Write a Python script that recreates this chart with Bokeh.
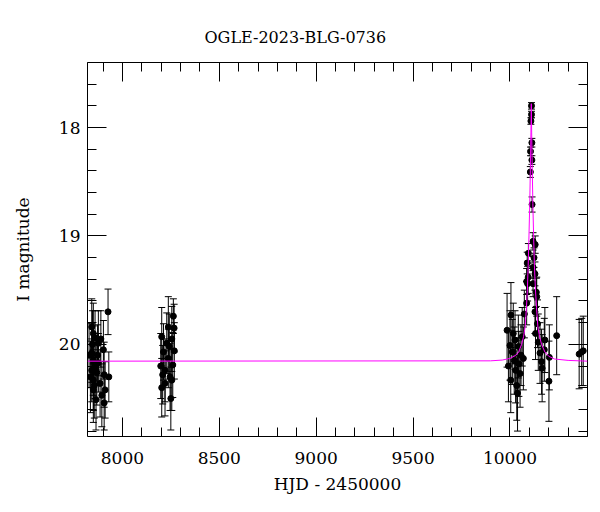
from bokeh.plotting import figure
from bokeh.models import (ColumnDataSource, Whisker, TeeHead, Range1d, LinearAxis,
                          SingleIntervalTicker)
from bokeh.embed import file_html
from bokeh.resources import INLINE

# ---- data ----
title_text = "OGLE-2023-BLG-0736"
x_label = "HJD - 2450000"
y_label = "I magnitude"

s1_hjd = [7828, 7835, 7842, 7850, 7859, 7876, 7842, 7850, 7859, 7868, 7850, 7885, 7902, 7906,
          7911, 7894, 7850, 7864, 7906, 7926, 7930, 7842, 7876, 7846, 7872, 7889, 7855]
s1_mag = [20.10, 20.30, 19.84, 19.90, 19.94, 19.99, 20.08, 20.15, 20.21, 20.26, 20.33, 20.36, 20.05, 20.28,
          20.42, 20.47, 20.42, 20.51, 20.54, 19.70, 20.30, 20.24, 20.17, 20.00, 20.10, 19.95, 20.38]
s1_err = [0.30, 0.33, 0.26, 0.28, 0.25, 0.30, 0.27, 0.32, 0.29, 0.30, 0.28, 0.31, 0.27, 0.30,
          0.26, 0.29, 0.30, 0.28, 0.25, 0.21, 0.23, 0.29, 0.27, 0.31, 0.28, 0.26, 0.30]

s2_hjd = [8263, 8267, 8203, 8255, 8229, 8268, 8198, 8237, 8220, 8246, 8255, 8220, 8203, 8250,
          8212, 8260, 8237, 8208, 8242]
s2_mag = [19.74, 19.85, 19.93, 19.95, 19.99, 20.06, 20.20, 20.13, 20.24, 20.30, 20.33, 20.36, 20.40, 20.50,
          20.07, 20.19, 19.84, 20.28, 20.02]
s2_err = [0.16, 0.22, 0.27, 0.30, 0.28, 0.26, 0.30, 0.27, 0.29, 0.31, 0.28, 0.30, 0.27, 0.29,
          0.26, 0.30, 0.28, 0.27, 0.30]

s3_hjd = [9985, 10005, 10000, 10004, 10017, 10012, 10026, 10022, 10029, 10035, 10043, 10046, 10052,
          10057, 10063, 10069, 10074, 10086, 10091, 10094, 10129, 10132, 10142, 10146, 10155, 10163,
          10166, 10180, 10177, 10201, 10241, 10138, 10203, 10357, 10370, 10378, 9992, 10039]
s3_mag = [19.87, 19.73, 20.01, 20.33, 19.90, 20.07, 19.96, 20.15, 20.24, 20.38, 20.02, 20.18, 20.27,
          20.10, 19.93, 20.13, 19.72, 19.62, 19.44, 19.38, 19.70, 19.90, 19.81, 19.98, 20.08, 20.16,
          20.22, 19.96, 20.05, 20.34, 19.92, 19.56, 20.12, 20.09, 20.07, 20.06, 20.20, 20.45]
s3_err = [0.34, 0.30, 0.32, 0.30, 0.28, 0.30, 0.27, 0.31, 0.30, 0.32, 0.29, 0.30, 0.31,
          0.28, 0.27, 0.29, 0.22, 0.20, 0.16, 0.15, 0.20, 0.24, 0.22, 0.26, 0.28, 0.30,
          0.31, 0.30, 0.29, 0.37, 0.36, 0.18, 0.30, 0.32, 0.31, 0.32, 0.33, 0.35]

peak_hjd = [10111, 10111, 10108, 10113, 10106, 10113, 10105, 10114, 10119, 10130, 10095, 10124,
            10089, 10119, 10129, 10086, 10119, 10136]
peak_mag = [17.80, 17.88, 17.94, 18.14, 18.22, 18.30, 18.41, 18.71, 19.05, 19.08, 19.16, 19.20,
            19.25, 19.29, 19.35, 19.42, 19.44, 19.52]
peak_err = [0.03, 0.03, 0.03, 0.04, 0.04, 0.04, 0.05, 0.07, 0.08, 0.08, 0.09, 0.09,
            0.10, 0.10, 0.11, 0.12, 0.12, 0.13]

model_hjd = [7820, 9900, 9960, 10000, 10030, 10045, 10060, 10070, 10078, 10085, 10090, 10094,
             10098, 10102, 10105, 10108, 10110, 10112, 10115, 10118, 10122, 10126, 10131, 10137,
             10144, 10153, 10163, 10180, 10200, 10230, 10300, 10400]
model_mag = [20.155, 20.152, 20.145, 20.13, 20.10, 20.07, 20.00, 19.93, 19.84, 19.66, 19.48, 19.27,
             19.00, 18.70, 18.40, 18.05, 17.78, 18.05, 18.40, 18.70, 19.00, 19.27, 19.48, 19.66,
             19.84, 19.93, 20.00, 20.07, 20.11, 20.135, 20.148, 20.155]

x_ticks = [8000, 8500, 9000, 9500, 10000]
y_ticks = [18, 19, 20]
x_start, x_end = 7820, 10400
y_bottom, y_top = 20.85, 17.40

# ---- build ----
hjd = s1_hjd + s2_hjd + s3_hjd + peak_hjd
mag = s1_mag + s2_mag + s3_mag + peak_mag
err = s1_err + s2_err + s3_err + peak_err
src = ColumnDataSource(dict(x=hjd, y=mag,
                            lo=[m + e for m, e in zip(mag, err)],
                            hi=[m - e for m, e in zip(mag, err)]))

FONT = "DejaVu Serif"
W, H = 600, 512
p = figure(width=W, height=H, output_backend="svg", toolbar_location=None,
           x_range=Range1d(x_start, x_end), y_range=Range1d(y_bottom, y_top),
           min_border_left=87, min_border_right=13, min_border_top=62, min_border_bottom=76)
p.frame_width = 500
p.frame_height = 374
p.title.text = title_text
p.title.text_font = FONT
p.title.text_font_size = "16px"
p.title.text_font_style = "normal"
p.title.text_color = "black"
p.title.align = "left"
p.title.offset = 117
p.title.standoff = 31
p.outline_line_color = "black"
p.outline_line_width = 1
p.xgrid.visible = False
p.ygrid.visible = False
p.background_fill_color = "white"
p.border_fill_color = "white"

xt = SingleIntervalTicker(interval=500, num_minor_ticks=5)
yt = SingleIntervalTicker(interval=1, num_minor_ticks=5)

def style(ax, labels, ticks):
    ax.axis_line_color = None
    ax.major_tick_in = 19
    ax.major_tick_out = 0
    ax.minor_tick_in = 9
    ax.minor_tick_out = 0
    ax.major_tick_line_color = "black"
    ax.minor_tick_line_color = "black"
    if labels:
        ax.major_label_text_font = FONT
        ax.major_label_text_font_size = "17px"
        ax.major_label_text_color = "black"
        ax.axis_label_text_font = FONT
        ax.axis_label_text_font_size = "17px"
        ax.axis_label_text_font_style = "normal"
        ax.axis_label_text_color = "black"
    else:
        ax.major_label_overrides = {t: "" for t in ticks}
        ax.major_label_standoff = 0

p.xaxis.ticker = xt
p.yaxis.ticker = yt
style(p.xaxis[0], True, x_ticks)
style(p.yaxis[0], True, y_ticks)
p.xaxis.axis_label = x_label
p.yaxis.axis_label = y_label
p.xaxis.major_label_standoff = 15
p.xaxis.axis_label_standoff = 7
p.yaxis.major_label_standoff = 7
p.yaxis.axis_label_standoff = 23

top = LinearAxis(ticker=xt)
right = LinearAxis(ticker=yt)
style(top, False, x_ticks)
style(right, False, y_ticks)
p.add_layout(top, "above")
p.add_layout(right, "right")

wh = Whisker(source=src, base="x", upper="hi", lower="lo", dimension="height",
             line_color="black", line_width=1,
             upper_head=TeeHead(size=7, line_color="black", line_width=1),
             lower_head=TeeHead(size=7, line_color="black", line_width=1))
p.add_layout(wh)
p.scatter("x", "y", source=src, size=6, color="black")
p.line(model_hjd, model_mag, line_color="#ff00ff", line_width=1)

open("out.html", "w").write(file_html(p, INLINE))
